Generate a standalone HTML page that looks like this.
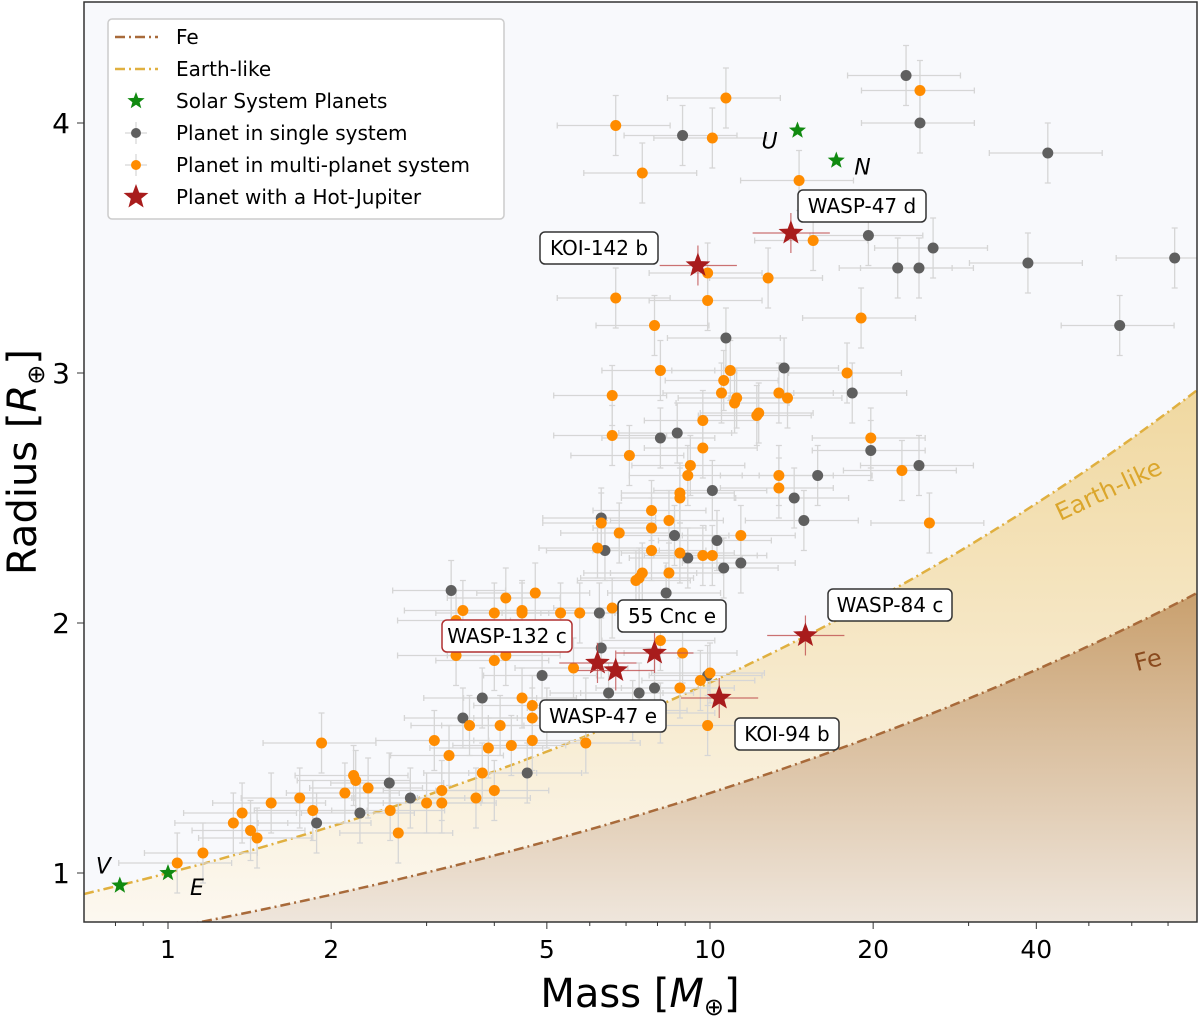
<!DOCTYPE html>
<html><head><meta charset="utf-8"><style>
html,body{margin:0;padding:0;background:#fff;}
svg{display:block;font-family:"DejaVu Sans","Liberation Sans",sans-serif;}
</style></head><body>
<svg id="chart" width="1200" height="1016" viewBox="0 0 1200 1016">
<defs>
<linearGradient id="gEarth" gradientUnits="userSpaceOnUse" x1="0" y1="390" x2="0" y2="922"><stop offset="0" stop-color="#f0d8a0"/><stop offset="1" stop-color="#fcf8f0"/></linearGradient>
<linearGradient id="gFe" gradientUnits="userSpaceOnUse" x1="0" y1="593" x2="0" y2="922"><stop offset="0" stop-color="#c9a06e"/><stop offset="1" stop-color="#efe6dc"/></linearGradient>
<clipPath id="clip"><rect x="84" y="2" width="1113" height="920"/></clipPath>
</defs>
</svg>
<script>
const singleM=[23.0,24.4,42,8.9,19.6,25.8,22.2,24.3,38.6,72,57,10.7,13.7,18.3,15.8,14.3,14.9,24.3,19.8,10.1,8.1,8.7,10.3,11.4,10.6,9.1,8.6,8.3,6.4,6.3,3.33,6.25,6.3,4.9,3.8,3.5,6.5,7.4,7.9,9.9,4.6,2.56,2.8,2.26,1.88];
const singleR=[4.19,4.0,3.88,3.95,3.55,3.50,3.42,3.42,3.44,3.46,3.19,3.14,3.02,2.92,2.59,2.50,2.41,2.63,2.69,2.53,2.74,2.76,2.33,2.24,2.22,2.26,2.35,2.12,2.29,2.42,2.13,2.04,1.90,1.79,1.70,1.62,1.72,1.72,1.74,1.79,1.40,1.36,1.30,1.24,1.20];
const multiM=[6.7,10.7,10.1,24.4,7.5,14.6,6.7,9.9,9.9,12.8,15.5,7.9,19.0,17.9,8.1,6.6,10.9,10.6,10.5,11.2,11.1,12.2,12.3,13.9,13.4,6.6,7.1,9.7,9.7,19.8,22.6,25.4,13.4,13.4,9.2,9.1,8.8,8.8,7.8,6.3,7.8,6.8,8.4,6.2,7.8,8.8,10.1,9.7,11.4,8.4,7.3,7.4,7.5,6.6,5.75,5.3,4.76,4.2,4.5,4.5,4.0,3.5,3.4,4.2,3.4,4.0,5.6,4.5,4.7,4.7,5.0,4.1,3.6,3.1,3.9,4.3,3.3,4.7,5.9,3.8,4.0,3.2,3.7,3.0,3.2,1.92,2.20,2.22,2.34,2.12,2.57,1.85,1.75,1.55,1.37,1.32,1.42,1.46,1.16,1.04,2.66,9.6,10.0,8.8,8.1,7.2,9.9,5.9,8.1,8.9];
const multiR=[3.99,4.10,3.94,4.13,3.80,3.77,3.30,3.40,3.29,3.38,3.53,3.19,3.22,3.00,3.01,2.91,3.01,2.97,2.92,2.90,2.88,2.83,2.84,2.90,2.92,2.75,2.67,2.81,2.70,2.74,2.61,2.40,2.59,2.54,2.63,2.59,2.52,2.50,2.45,2.40,2.38,2.36,2.41,2.30,2.29,2.28,2.27,2.27,2.35,2.20,2.17,2.18,2.20,2.06,2.04,2.04,2.12,2.10,2.05,2.04,2.04,2.05,2.01,1.87,1.87,1.85,1.82,1.70,1.67,1.62,1.62,1.59,1.59,1.53,1.50,1.51,1.47,1.53,1.52,1.40,1.33,1.33,1.30,1.28,1.28,1.52,1.39,1.37,1.34,1.32,1.25,1.25,1.30,1.28,1.24,1.20,1.17,1.14,1.08,1.04,1.16,1.77,1.80,1.74,1.64,1.65,1.59,1.66,1.93,1.88];
const hjNames=["KOI-142 b","WASP-47 d","WASP-132 c","","55 Cnc e","KOI-94 b","WASP-84 c"];
const hjM=[9.5,14.1,6.2,6.7,7.9,10.4,15.0];
const hjR=[3.43,3.56,1.84,1.81,1.88,1.70,1.95];
const ssNames=["V","E","U","N"];
const ssM=[0.815,1.0,14.5,17.1];
const ssR=[0.95,1.0,3.97,3.85];
const xTicks=[1,2,5,10,20,40];
const yTicks=[1,2,3,4];

const NS="http://www.w3.org/2000/svg";
const svg=document.getElementById('chart');
const X0=84,X1=1197,Y0=2,Y1=922;
const xs=m=>168+542*Math.log10(m);
const ys=r=>873-250*(r-1);
const mMin=Math.pow(10,(X0-168)/542), mMax=Math.pow(10,(X1-168)/542);
function el(tag,attrs,parent){const e=document.createElementNS(NS,tag);for(const k in attrs)e.setAttribute(k,attrs[k]);(parent||svg).appendChild(e);return e;}
const earth=m=>Math.pow(m,0.246);
const fe=m=>0.779*Math.pow(m,0.229);

el('rect',{x:X0,y:Y0,width:X1-X0,height:Y1-Y0,fill:'#f8f9fc'});
const plot=el('g',{'clip-path':'url(#clip)'});


function curvePts(f){const p=[];for(let i=0;i<=100;i++){const m=mMin*Math.pow(mMax/mMin,i/100);p.push([xs(m),ys(f(m))]);}return p;}
const ep=curvePts(earth), fp=curvePts(fe);
const toD=p=>p.map((q,i)=>(i?'L':'M')+q[0].toFixed(1)+','+q[1].toFixed(1)).join('');
let a=el('path',{d:toD(ep)+`L${X1},${Y1}L${X0},${Y1}Z`,fill:'url(#gEarth)'},plot);

a=el('path',{d:toD(fp)+`L${X1},${Y1}L${X0},${Y1}Z`,fill:'url(#gFe)'},plot);

a=el('path',{d:toD(ep),fill:'none',stroke:'#e0b040',"stroke-width":2.5,"stroke-dasharray":"10 4 2 4"},plot);

a=el('path',{d:toD(fp),fill:'none',stroke:'#a86a3a',"stroke-width":2.5,"stroke-dasharray":"10 4 2 4"},plot);


function errbar(m,r,col,g){
  const x=xs(m),y=ys(r),xl=xs(m*0.78),xr=xs(m*1.26),dy=250*0.12;
  el('path',{d:`M${xl},${y}H${xr}M${x},${y-dy}V${y+dy}M${xl},${y-3}V${y+3}M${xr},${y-3}V${y+3}M${x-3},${y-dy}H${x+3}M${x-3},${y+dy}H${x+3}`,stroke:col,"stroke-width":1.3,fill:'none'},g);
}
const eg=el('g',{},plot);

singleM.forEach((m,i)=>errbar(m,singleR[i],'#d6d6d6',eg));
multiM.forEach((m,i)=>errbar(m,multiR[i],'#d6d6d6',eg));
const gs=el('g',{},plot);

singleM.forEach((m,i)=>{const c=el('circle',{cx:xs(m),cy:ys(singleR[i]),r:5.5,fill:'#5f5f5f'},gs);

});
const gm=el('g',{},plot);

multiM.forEach((m,i)=>{const c=el('circle',{cx:xs(m),cy:ys(multiR[i]),r:5.5,fill:'#ff8c00'},gm);

});
function star(cx,cy,R){const p=[];for(let i=0;i<10;i++){const rr=i%2?R*0.42:R;const ang=-Math.PI/2+i*Math.PI/5;p.push((cx+rr*Math.cos(ang)).toFixed(1)+','+(cy+rr*Math.sin(ang)).toFixed(1));}return p.join(' ');}
const gss=el('g',{},plot);

ssM.forEach((m,i)=>{const s=el('polygon',{points:star(xs(m),ys(ssR[i]),9),fill:'#108a10'},gss);

});
const ssOff=[[-24,-12],[22,22],[-36,18],[18,14]];
ssNames.forEach((n,i)=>{const t=el('text',{x:xs(ssM[i])+ssOff[i][0],y:ys(ssR[i])+ssOff[i][1],"font-size":22,"font-style":"italic",fill:'#000'},svg);t.textContent=n;

});
const ghj=el('g',{},plot);

hjM.forEach((m,i)=>{const x=xs(m),y=ys(hjR[i]);
 el('path',{d:`M${xs(m*0.85)},${y}H${xs(m*1.18)}M${x},${y-20}V${y+20}`,stroke:'#c05050',"stroke-width":1.2,opacity:0.8},ghj);
 const s=el('polygon',{points:star(x,y,13),fill:'#a81c1c'},ghj);
 
 });
const labs=[[540,232,118,"KOI-142 b",'#333'],[798,190,128,"WASP-47 d",'#333'],[442,620,130,"WASP-132 c",'#b03030'],[618,600,108,"55 Cnc e",'#333'],[540,700,126,"WASP-47 e",'#333'],[735,718,104,"KOI-94 b",'#333'],[828,589,124,"WASP-84 c",'#333']];
labs.forEach(l=>{const g=el('g',{});
 
 
 el('rect',{x:l[0],y:l[1],width:l[2],height:32,rx:5,fill:'#fff',stroke:l[4],"stroke-width":1.5},g);
 const t=el('text',{x:l[0]+l[2]/2,y:l[1]+23,"font-size":20,"text-anchor":"middle"},g);t.textContent=l[3];});
let t=el('text',{x:1112,y:497,"font-size":24,fill:'#dba62c',"text-anchor":"middle",transform:'rotate(-25 1112 497)'});t.textContent='Earth-like';

t=el('text',{x:1150,y:668,"font-size":24,fill:'#8a4a1e',"text-anchor":"middle",transform:'rotate(-14 1150 668)'});t.textContent='Fe';

a=el('rect',{x:X0,y:Y0,width:X1-X0,height:Y1-Y0,fill:'none',stroke:'#333',"stroke-width":1.5});

const xa=el('g',{});
[0.8,0.9,3,4,6,7,8,9,30,50,60,70].forEach(m=>{if(m>=mMin&&m<=mMax)el('line',{x1:xs(m),x2:xs(m),y1:Y1,y2:Y1+4,stroke:'#333'},xa);});
xTicks.forEach(m=>{el('line',{x1:xs(m),x2:xs(m),y1:Y1,y2:Y1+7,stroke:'#333'},xa);
 const tt=el('text',{x:xs(m),y:958,"font-size":25,"text-anchor":"middle"},xa);tt.textContent=m;
 });
const ya=el('g',{});
yTicks.forEach(r=>{el('line',{x1:X0-7,x2:X0,y1:ys(r),y2:ys(r),stroke:'#333'},ya);
 const tt=el('text',{x:70,y:ys(r)+10,"font-size":28,"text-anchor":"end"},ya);tt.textContent=r;
 });
t=el('text',{x:640,y:1007,"font-size":40,"text-anchor":"middle"});t.innerHTML='Mass [<tspan font-style="italic">M</tspan><tspan font-size="24" dy="8">⊕</tspan><tspan dy="-8">]</tspan>';

t=el('text',{x:0,y:0,"font-size":40,"text-anchor":"middle",transform:'translate(36 462) rotate(-90)'});t.innerHTML='Radius [<tspan font-style="italic">R</tspan><tspan font-size="24" dy="8">⊕</tspan><tspan dy="-8">]</tspan>';

const lg=el('g',{});
el('rect',{x:108,y:19,width:396,height:200,rx:4,fill:'#fff',stroke:'#ccc',"stroke-width":1.5},lg);
const items=["Fe","Earth-like","Solar System Planets","Planet in single system","Planet in multi-planet system","Planet with a Hot-Jupiter"];
items.forEach((s,i)=>{const y=37+i*32;
 const tt=el('text',{x:176,y:y+7,"font-size":20},lg);tt.textContent=s;
 
 const cx=136;
 if(i==0)el('line',{x1:115,x2:158,y1:y,y2:y,stroke:'#a86a3a',"stroke-width":2.5,"stroke-dasharray":"10 4 2 4"},lg);
 if(i==1)el('line',{x1:115,x2:158,y1:y,y2:y,stroke:'#e0b040',"stroke-width":2.5,"stroke-dasharray":"10 4 2 4"},lg);
 if(i==2)el('polygon',{points:star(cx,y,9),fill:'#108a10'},lg);
 if(i==3||i==4){el('path',{d:`M${cx-11},${y}H${cx+11}M${cx},${y-11}V${y+11}`,stroke:'#ccc'},lg);el('circle',{cx:cx,cy:y,r:5,fill:i==3?'#5f5f5f':'#ff8c00'},lg);}
 if(i==5)el('polygon',{points:star(cx,y,13),fill:'#a81c1c'},lg);
});
</script>
</body></html>
